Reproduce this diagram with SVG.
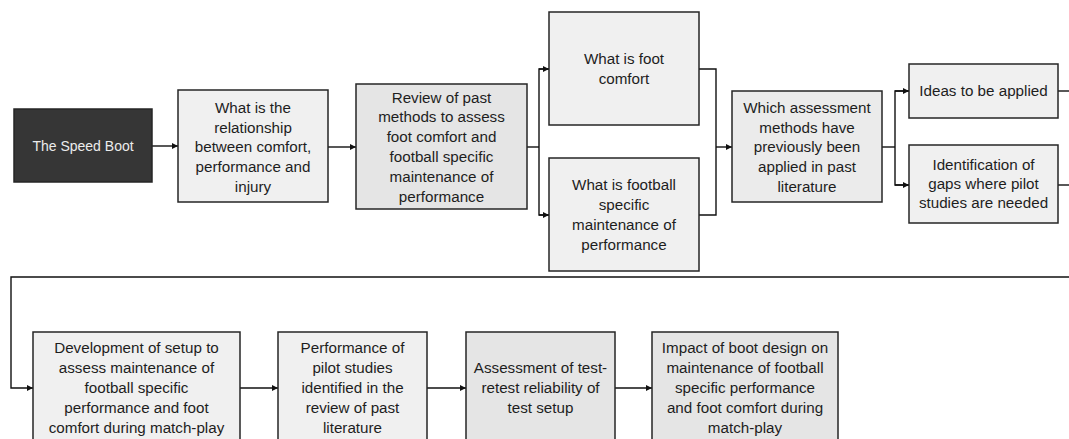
<svg xmlns="http://www.w3.org/2000/svg" width="1069" height="439" viewBox="0 0 1069 439">
  <style>
    .box { stroke: #262626; stroke-width: 1.5; }
    .light { fill: #f0f0f0; }
    .mid { fill: #e5e5e5; }
    .dark { fill: #363636; }
    .lbl { font-family: "Liberation Sans", Arial, sans-serif; font-size: 15.2px; fill: #1e1e1e; text-anchor: middle; }
    .lbl-inv { font-family: "Liberation Sans", Arial, sans-serif; font-size: 14px; fill: #ececec; text-anchor: middle; }
    .wire { fill: none; stroke: #111; stroke-width: 1.4; }
  </style>
  <defs>
    <marker id="arrow" markerUnits="userSpaceOnUse" markerWidth="7" markerHeight="7" refX="6" refY="3" orient="auto">
      <path d="M0,0 L6,3 L0,6 z" fill="#111"/>
    </marker>
  </defs>

  <rect width="1069" height="439" fill="#ffffff"/>

  <!-- connectors -->
  <g id="connectors">
    <line class="wire" x1="152" y1="146" x2="178" y2="146" marker-end="url(#arrow)"/>
    <line class="wire" x1="328" y1="147" x2="356" y2="147" marker-end="url(#arrow)"/>
    <!-- split into the two definition questions -->
    <path class="wire" d="M527,147 H539"/>
    <path class="wire" d="M549,69 H539 V215 H549"/>
    <line class="wire" x1="539" y1="69" x2="549" y2="69" marker-end="url(#arrow)"/>
    <line class="wire" x1="539" y1="215" x2="549" y2="215" marker-end="url(#arrow)"/>
    <!-- merge back -->
    <path class="wire" d="M699,69 H716 V215 H699"/>
    <line class="wire" x1="716" y1="147" x2="732" y2="147" marker-end="url(#arrow)"/>
    <!-- split into outcomes -->
    <path class="wire" d="M882,147 H895"/>
    <path class="wire" d="M909,91 H895 V185 H909"/>
    <line class="wire" x1="895" y1="91" x2="909" y2="91" marker-end="url(#arrow)"/>
    <line class="wire" x1="895" y1="185" x2="909" y2="185" marker-end="url(#arrow)"/>
    <line class="wire" x1="1058" y1="91" x2="1069" y2="91"/>
    <line class="wire" x1="1058" y1="185" x2="1069" y2="185"/>
    <!-- wrap to second row -->
    <path class="wire" d="M1069,277 H11 V388 H33" marker-end="url(#arrow)"/>
    <line class="wire" x1="240" y1="388" x2="278" y2="388" marker-end="url(#arrow)"/>
    <line class="wire" x1="427" y1="388" x2="466" y2="388" marker-end="url(#arrow)"/>
    <line class="wire" x1="615" y1="388" x2="652" y2="388" marker-end="url(#arrow)"/>
  </g>

  <g id="speed-boot">
    <rect class="box dark" x="14" y="109" width="138" height="73"/>
    <text class="lbl-inv" x="83" y="151">The Speed Boot</text>
  </g>

  <g id="relationship">
    <rect class="box light" x="178" y="90" width="150" height="112"/>
    <text class="lbl" x="253" y="113">What is the</text>
    <text class="lbl" x="253" y="133">relationship</text>
    <text class="lbl" x="253" y="152">between comfort,</text>
    <text class="lbl" x="253" y="172">performance and</text>
    <text class="lbl" x="253" y="192">injury</text>
  </g>

  <g id="review">
    <rect class="box mid" x="356" y="84" width="171" height="125"/>
    <text class="lbl" x="441.5" y="103">Review of past</text>
    <text class="lbl" x="441.5" y="122">methods to assess</text>
    <text class="lbl" x="441.5" y="142">foot comfort and</text>
    <text class="lbl" x="441.5" y="162">football specific</text>
    <text class="lbl" x="441.5" y="182">maintenance of</text>
    <text class="lbl" x="441.5" y="202">performance</text>
  </g>

  <g id="foot-comfort">
    <rect class="box light" x="549" y="12" width="150" height="113"/>
    <text class="lbl" x="624" y="64">What is foot</text>
    <text class="lbl" x="624" y="84">comfort</text>
  </g>

  <g id="football-maintenance">
    <rect class="box light" x="549" y="158" width="150" height="113"/>
    <text class="lbl" x="624" y="190">What is football</text>
    <text class="lbl" x="624" y="210">specific</text>
    <text class="lbl" x="624" y="230">maintenance of</text>
    <text class="lbl" x="624" y="250">performance</text>
  </g>

  <g id="assessment-methods">
    <rect class="box" fill="#ebebeb" x="732" y="91" width="150" height="111"/>
    <text class="lbl" x="807" y="113">Which assessment</text>
    <text class="lbl" x="807" y="133">methods have</text>
    <text class="lbl" x="807" y="152">previously been</text>
    <text class="lbl" x="807" y="172">applied in past</text>
    <text class="lbl" x="807" y="192">literature</text>
  </g>

  <g id="ideas">
    <rect class="box light" x="909" y="64" width="149" height="54"/>
    <text class="lbl" x="983.5" y="96">Ideas to be applied</text>
  </g>

  <g id="gaps">
    <rect class="box light" x="909" y="145" width="149" height="78"/>
    <text class="lbl" x="983.5" y="170">Identification of</text>
    <text class="lbl" x="983.5" y="189">gaps where pilot</text>
    <text class="lbl" x="983.5" y="208">studies are needed</text>
  </g>

  <g id="setup-development">
    <rect class="box light" x="33" y="332" width="207" height="112"/>
    <text class="lbl" x="136.5" y="353">Development of setup to</text>
    <text class="lbl" x="136.5" y="373">assess maintenance of</text>
    <text class="lbl" x="136.5" y="393">football specific</text>
    <text class="lbl" x="136.5" y="413">performance and foot</text>
    <text class="lbl" x="136.5" y="433">comfort during match-play</text>
  </g>

  <g id="pilot-studies">
    <rect class="box light" x="278" y="332" width="149" height="112"/>
    <text class="lbl" x="352.5" y="353">Performance of</text>
    <text class="lbl" x="352.5" y="373">pilot studies</text>
    <text class="lbl" x="352.5" y="393">identified in the</text>
    <text class="lbl" x="352.5" y="413">review of past</text>
    <text class="lbl" x="352.5" y="433">literature</text>
  </g>

  <g id="reliability">
    <rect class="box mid" x="466" y="332" width="149" height="112"/>
    <text class="lbl" x="540.5" y="373">Assessment of test-</text>
    <text class="lbl" x="540.5" y="393">retest reliability of</text>
    <text class="lbl" x="540.5" y="413">test setup</text>
  </g>

  <g id="boot-design-impact">
    <rect class="box mid" x="652" y="332" width="186" height="112"/>
    <text class="lbl" x="745" y="353">Impact of boot design on</text>
    <text class="lbl" x="745" y="373">maintenance of football</text>
    <text class="lbl" x="745" y="393">specific performance</text>
    <text class="lbl" x="745" y="413">and foot comfort during</text>
    <text class="lbl" x="745" y="433">match-play</text>
  </g>
</svg>
